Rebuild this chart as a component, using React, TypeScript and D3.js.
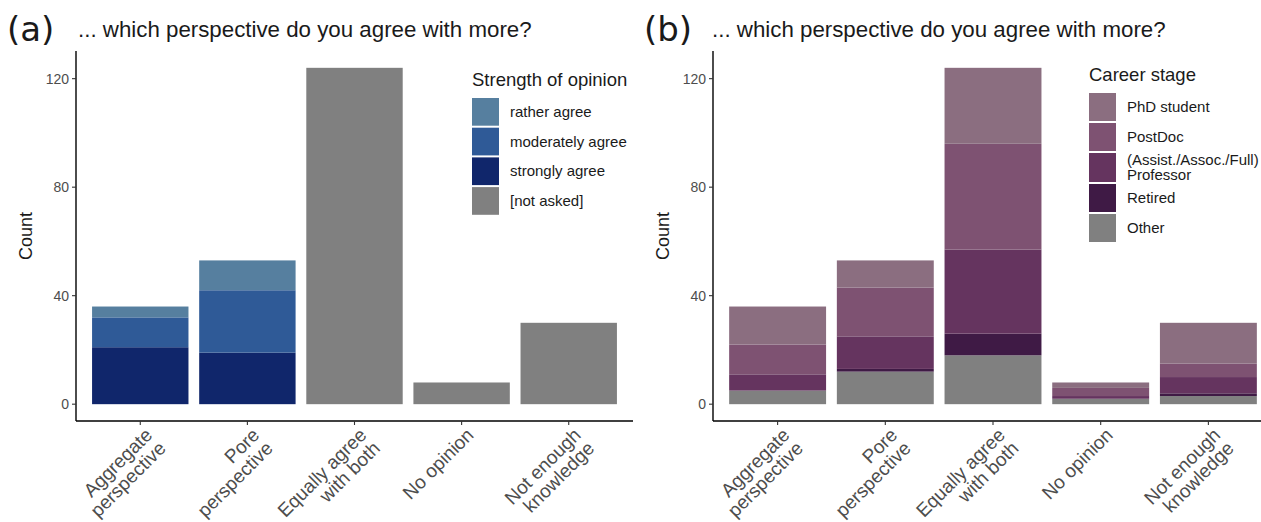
import React from 'react';
import * as d3 from 'd3';

// categories on the x axis, label lines for the rotated tick text
const categories = ['agg', 'pore', 'equal', 'none', 'noknow'];
const categoryLabels = [
  ['Aggregate', 'perspective'],
  ['Pore', 'perspective'],
  ['Equally agree', 'with both'],
  ['No opinion'],
  ['Not enough', 'knowledge'],
];

// panel (a): strength of opinion
const stronglyAgree = [21, 19, 0, 0, 0];
const moderatelyAgree = [11, 23, 0, 0, 0];
const ratherAgree = [4, 11, 0, 0, 0];
const notAsked = [0, 0, 124, 8, 30];

// panel (b): career stage
const other = [5, 12, 18, 2, 3];
const retired = [0, 1, 8, 0, 1];
const professor = [6, 12, 31, 1, 6];
const postDoc = [11, 18, 39, 3, 5];
const phdStudent = [14, 10, 28, 2, 15];

const yTicks = [0, 40, 80, 120];

const strengthSeries = [
  { key: 'strongly agree', values: stronglyAgree, color: '#10266b' },
  { key: 'moderately agree', values: moderatelyAgree, color: '#2f5a97' },
  { key: 'rather agree', values: ratherAgree, color: '#567f9f' },
  { key: '[not asked]', values: notAsked, color: '#808080' },
];
const strengthLegend = ['rather agree', 'moderately agree', 'strongly agree', '[not asked]'];

const careerSeries = [
  { key: 'Other', values: other, color: '#808080' },
  { key: 'Retired', values: retired, color: '#3f1a45' },
  { key: 'Professor', values: professor, color: '#65345f' },
  { key: 'PostDoc', values: postDoc, color: '#7e5272' },
  { key: 'PhD student', values: phdStudent, color: '#8b6e80' },
];
const careerLegend = [
  { key: 'PhD student', lines: ['PhD student'] },
  { key: 'PostDoc', lines: ['PostDoc'] },
  { key: 'Professor', lines: ['(Assist./Assoc./Full)', 'Professor'] },
  { key: 'Retired', lines: ['Retired'] },
  { key: 'Other', lines: ['Other'] },
];

const FONT = '"Liberation Sans", Arial, sans-serif';

type Series = { key: string; values: number[]; color: string };
type LegendItem = { key: string; lines: string[] };

function Panel(props: {
  left: number;
  right: number;
  tag: string;
  tagX: number;
  titleX: number;
  series: Series[];
  legendTitle: string;
  legendX: number;
  legendY: number;
  legend: LegendItem[];
  keyStep: number;
}) {
  const { left, right, series } = props;
  const top = 51;
  const bottom = 421;

  const x = d3.scaleBand<string>().domain(categories).range([left, right]).paddingInner(0.1).paddingOuter(0.15);
  const y = d3.scaleLinear().domain([-6.2, 130.2]).range([bottom, top]);

  const table = categories.map((c, i) => {
    const row: any = { cat: c };
    series.forEach((s) => (row[s.key] = s.values[i]));
    return row;
  });
  const stacked = d3.stack<any>().keys(series.map((s) => s.key))(table);
  const colorOf = (k: string) => series.find((s) => s.key === k)!.color;

  let legendCursor = props.legendY + 12;

  return (
    <g>
      <text x={props.tagX} y={41} fontFamily='"DejaVu Sans", sans-serif' fontSize={34} fill="#1a1a1a">
        {props.tag}
      </text>
      <text x={props.titleX} y={37} fontFamily={FONT} fontSize={22.3} fill="#1a1a1a">
        ... which perspective do you agree with more?
      </text>

      {stacked.map((layer) => (
        <g key={layer.key} fill={colorOf(layer.key)}>
          {layer.map((d, i) =>
            d[1] - d[0] > 0 ? (
              <rect
                key={i}
                x={x(categories[i])!}
                width={x.bandwidth()}
                y={y(d[1])}
                height={y(d[0]) - y(d[1])}
              />
            ) : null
          )}
        </g>
      ))}

      {/* axes */}
      <line x1={left} x2={left} y1={top} y2={bottom} stroke="#000" strokeWidth={1.4} />
      <line x1={left} x2={right} y1={bottom} y2={bottom} stroke="#000" strokeWidth={1.4} />
      {yTicks.map((t) => (
        <g key={t}>
          <line x1={left - 4} x2={left} y1={y(t)} y2={y(t)} stroke="#333" strokeWidth={1.1} />
          <text x={left - 7} y={y(t) + 5} textAnchor="end" fontFamily={FONT} fontSize={14} fill="#4d4d4d">
            {t}
          </text>
        </g>
      ))}
      {categories.map((c, i) => {
        const cx = x(c)! + x.bandwidth() / 2;
        return (
          <g key={c}>
            <line x1={cx} x2={cx} y1={bottom} y2={bottom + 4} stroke="#333" strokeWidth={1.1} />
            <g transform={`translate(${cx + 4},${bottom + 6}) rotate(-45)`}>
              <text textAnchor="end" fontFamily={FONT} fontSize={19} fill="#4d4d4d">
                {categoryLabels[i].map((l, j) => (
                  <tspan key={j} x={0} y={13 + j * 19}>
                    {l}
                  </tspan>
                ))}
              </text>
            </g>
          </g>
        );
      })}
      <text
        transform={`translate(${left - 44},${(top + bottom) / 2}) rotate(-90)`}
        textAnchor="middle"
        fontFamily={FONT}
        fontSize={18}
        fill="#1a1a1a"
      >
        Count
      </text>

      {/* legend */}
      <text x={props.legendX} y={props.legendY} fontFamily={FONT} fontSize={18.5} fill="#1a1a1a">
        {props.legendTitle}
      </text>
      {props.legend.map((item) => {
        const h = item.lines.length > 1 ? props.keyStep + 1 : props.keyStep;
        const y0 = legendCursor;
        legendCursor += h;
        const mid = y0 + (h - 2) / 2;
        return (
          <g key={item.key}>
            <rect x={props.legendX} y={y0} width={27} height={h - 2} fill={colorOf(item.key)} />
            <text fontFamily={FONT} fontSize={15} fill="#1a1a1a">
              {item.lines.map((l, j) => (
                <tspan key={j} x={props.legendX + 38} y={mid + 5 + (j - (item.lines.length - 1) / 2) * 15}>
                  {l}
                </tspan>
              ))}
            </text>
          </g>
        );
      })}
    </g>
  );
}

export default function App() {
  return (
    <svg width={1261} height={522} style={{ position: 'absolute', left: 0, top: 0, background: '#fff' }}>
      <rect width={1261} height={522} fill="#fff" />
      <Panel
        left={76}
        right={633}
        tag="(a)"
        tagX={7}
        titleX={78}
        series={strengthSeries}
        legendTitle="Strength of opinion"
        legendX={472}
        legendY={86}
        legend={strengthLegend.map((k) => ({ key: k, lines: [k] }))}
        keyStep={29.7}
      />
      <Panel
        left={713}
        right={1273}
        tag="(b)"
        tagX={644}
        titleX={712}
        series={careerSeries}
        legendTitle="Career stage"
        legendX={1089}
        legendY={81}
        legend={careerLegend}
        keyStep={30}
      />
    </svg>
  );
}
